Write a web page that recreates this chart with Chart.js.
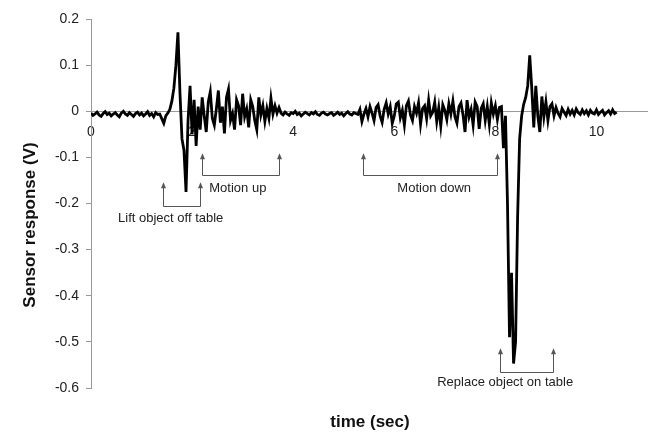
<!DOCTYPE html>
<html lang="en">
<head>
    <meta charset="UTF-8">
    <title>Sensor response</title>
    <script src="https://cdn.jsdelivr.net/npm/chart.js"></script>
    <style>
        body { margin: 0; padding: 0; background: #fff; }
        #wrap { width: 650px; height: 433px; }
    </style>
</head>
<body>
    <div id="wrap"><canvas id="sensorChart" width="650" height="433"></canvas></div>
    <script>
        // sampling interval of the recording (sec)
        const sampleStep = 0.04;

        // sensor response (V), one value per sample starting at t = 0
        const response = [
            // 0 - 1.36 s, resting
            -0.004, -0.009, -0.006, -0.002, -0.008, -0.011, -0.005, -0.001, -0.007, -0.004,
            -0.010, -0.006, -0.003, -0.008, -0.012, -0.004, 0.000, -0.006, -0.009, -0.003,
            -0.007, -0.011, -0.005, -0.002, -0.008, -0.004, -0.010, -0.006, -0.001, -0.009,
            -0.005, -0.012, -0.003, -0.007, -0.006,
            // lift
            -0.016, -0.026, -0.010,
            -0.004, 0.004, 0.022, 0.050, 0.100, 0.171, 0.040, -0.060, -0.085, -0.175, -0.020, 0.055, -0.050, 0.025, -0.075,
            // motion up
            0.010, -0.040, 0.030, -0.010, -0.045, 0.020, 0.042, -0.015, -0.030, 0.005,
            0.045, -0.025, 0.010, -0.048, 0.030, 0.048, -0.020, -0.005, -0.040, 0.025,
            0.012, -0.030, 0.038, -0.012, 0.005, -0.035, 0.025, 0.010, -0.020, -0.040,
            0.030, -0.008, 0.012, -0.022, 0.006, -0.015, 0.028, -0.006, 0.012, -0.004,
            // holding
            0.008, -0.004, -0.008, -0.002, -0.006, -0.009, -0.003, -0.005, 0.000, -0.007,
            -0.004, -0.010, -0.006, -0.002, -0.005, -0.008, -0.003, -0.006, -0.001, -0.007,
            -0.009, -0.004, -0.002, -0.006, -0.008, -0.005, -0.003, -0.009, -0.006, -0.002,
            -0.007, -0.004, -0.010, -0.005, -0.001, -0.006, -0.008, -0.003, -0.005, -0.007,
            0.004, -0.022, -0.006,
            // motion down
            0.006, -0.012, 0.010, -0.004, -0.020, 0.008, 0.014, -0.010, -0.024, 0.004,
            0.018, -0.006, 0.010, -0.026, -0.010, 0.016, 0.020, -0.014, 0.002, -0.030,
            0.012, 0.022, -0.008, -0.020, 0.010, -0.004, 0.018, -0.028, 0.006, 0.012,
            -0.016, 0.024, -0.010, -0.002, 0.020, -0.022, 0.008, -0.032, 0.014, 0.002,
            -0.018, 0.016, -0.006, 0.022, -0.012, -0.026, 0.010, 0.018, -0.008, -0.045,
            0.024, -0.012, 0.004, -0.030, 0.020, 0.010, -0.038, 0.006, 0.016, -0.020,
            0.010, -0.028, 0.018, -0.006, 0.012, -0.018, 0.008,
            // replace on table
            0.010, -0.080, -0.010, -0.200, -0.490, -0.350, -0.547, -0.500, -0.230, -0.060,
            -0.010, 0.015, 0.030, 0.055, 0.121, 0.050, -0.035, 0.055, -0.010, -0.045,
            0.032, -0.012, 0.020, -0.020, 0.010, 0.016,
            // settle
            -0.010, 0.008, -0.004, -0.012, 0.006, -0.002, -0.009, 0.004, -0.006, 0.002,
            -0.008, 0.005, -0.003, -0.007, 0.003, -0.005, 0.001, -0.008, 0.002, -0.004,
            -0.006, 0.003, -0.007, -0.002, 0.002, -0.008, -0.003, 0.001, -0.006, 0.003,
            -0.005, -0.002
        ];

        const xTickValues = [0, 2, 4, 6, 8, 10];
        const yTickValues = [0.2, 0.1, 0, -0.1, -0.2, -0.3, -0.4, -0.5, -0.6];

        // bracket annotations: x1/x2 in sec, arrow tip / bar / text in volts
        const brackets = [
            { text: 'Lift object off table', x1: 1.43, x2: 2.16, tip: -0.154, bar: -0.206, tx: 0.535, ty: -0.232, align: 'left' },
            { text: 'Motion up', x1: 2.20, x2: 3.72, tip: -0.091, bar: -0.139, tx: 2.34, ty: -0.167, align: 'left' },
            { text: 'Motion down', x1: 5.39, x2: 8.04, tip: -0.091, bar: -0.139, tx: 6.79, ty: -0.167, align: 'center' },
            { text: 'Replace object on table', x1: 8.10, x2: 9.15, tip: -0.514, bar: -0.566, tx: 6.85, ty: -0.588, align: 'left' }
        ];

        const points = response.map((v, i) => ({ x: +(i * sampleStep).toFixed(2), y: v }));

        const FONT = '"Liberation Sans", Arial, sans-serif';

        const annotations = {
            id: 'annotations',
            afterDraw(chart) {
                const { ctx, scales: { x, y } } = chart;
                ctx.save();
                ctx.strokeStyle = '#555';
                ctx.fillStyle = '#555';
                ctx.lineWidth = 1;
                brackets.forEach(b => {
                    const x1 = Math.round(x.getPixelForValue(b.x1)) + 0.5;
                    const x2 = Math.round(x.getPixelForValue(b.x2)) + 0.5;
                    const yt = y.getPixelForValue(b.tip);
                    const yb = Math.round(y.getPixelForValue(b.bar)) + 0.5;
                    ctx.beginPath();
                    ctx.moveTo(x1, yt + 4);
                    ctx.lineTo(x1, yb);
                    ctx.lineTo(x2, yb);
                    ctx.lineTo(x2, yt + 4);
                    ctx.stroke();
                    [x1, x2].forEach(px => {
                        ctx.beginPath();
                        ctx.moveTo(px, yt);
                        ctx.lineTo(px - 2.5, yt + 6);
                        ctx.lineTo(px + 2.5, yt + 6);
                        ctx.closePath();
                        ctx.fill();
                    });
                    ctx.fillStyle = '#222';
                    ctx.font = '13px ' + FONT;
                    ctx.textAlign = b.align;
                    ctx.textBaseline = 'middle';
                    ctx.fillText(b.text, x.getPixelForValue(b.tx), y.getPixelForValue(b.ty));
                    ctx.fillStyle = '#555';
                });

                // axis titles
                ctx.fillStyle = '#111';
                ctx.font = 'bold 17px ' + FONT;
                ctx.textAlign = 'center';
                ctx.textBaseline = 'middle';
                ctx.fillText('time (sec)', 370, 422);
                ctx.translate(30, 225);
                ctx.rotate(-Math.PI / 2);
                ctx.fillText('Sensor response (V)', 0, 0);
                ctx.restore();
            }
        };

        new Chart(document.getElementById('sensorChart').getContext('2d'), {
            type: 'line',
            data: {
                datasets: [{
                    data: points,
                    borderColor: '#000',
                    borderWidth: 2.8,
                    pointRadius: 0,
                    tension: 0,
                    fill: false
                }]
            },
            options: {
                responsive: false,
                animation: false,
                events: [],
                layout: { padding: { top: 19, bottom: 45, right: 3, left: 0 } },
                plugins: { legend: { display: false }, tooltip: { enabled: false } },
                scales: {
                    x: {
                        type: 'linear',
                        position: { y: 0 },
                        min: 0,
                        max: 11,
                        afterBuildTicks: s => { s.ticks = xTickValues.map(v => ({ value: v })); },
                        afterFit: s => { s.height = 0; },
                        grid: { display: false, drawTicks: false },
                        border: { display: true, color: '#999', width: 1 },
                        ticks: {
                            padding: 12,
                            maxRotation: 0,
                            color: '#222',
                            font: { family: FONT, size: 14 },
                            callback: v => String(v)
                        }
                    },
                    y: {
                        min: -0.6,
                        max: 0.2,
                        afterBuildTicks: s => { s.ticks = yTickValues.map(v => ({ value: v })); },
                        afterFit: s => { s.width = 91; },
                        grid: { display: true, drawOnChartArea: false, drawTicks: true, tickLength: 5, color: '#999' },
                        border: { display: true, color: '#999', width: 1 },
                        ticks: {
                            padding: 7,
                            color: '#222',
                            font: { family: FONT, size: 14 },
                            callback: v => String(Math.round(v * 10) / 10)
                        }
                    }
                }
            },
            plugins: [annotations]
        });
    </script>
</body>
</html>
